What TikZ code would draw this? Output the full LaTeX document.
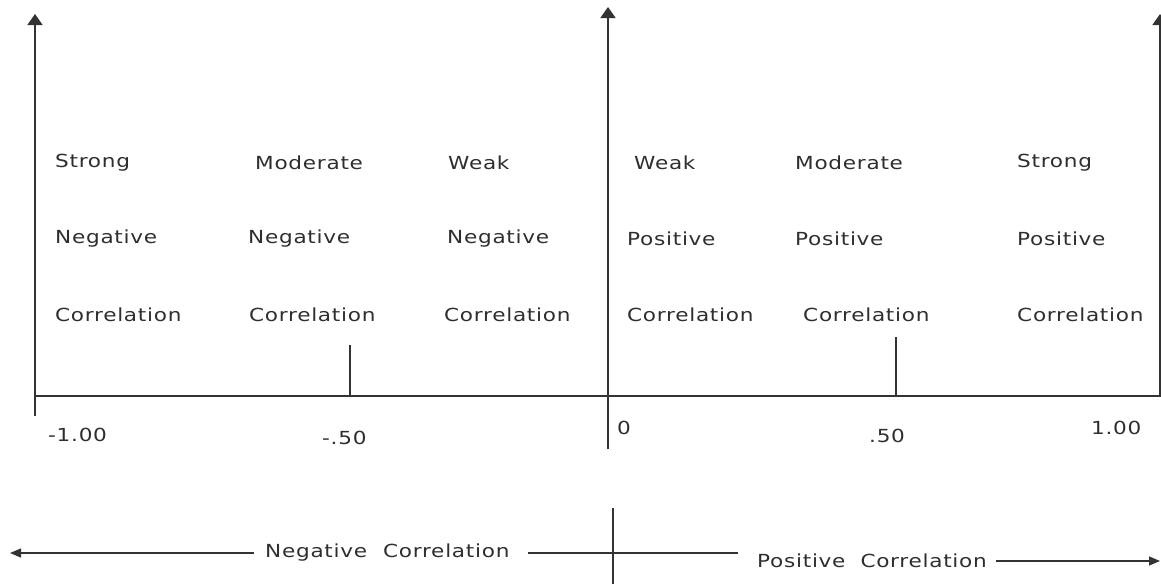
\documentclass[tikz,border=0pt]{standalone}
\usepackage{fontspec}
\usetikzlibrary{arrows.meta}
\newfontfamily\lblfont[FakeStretch=1.2,LetterSpace=4]{DejaVu Sans}
\definecolor{txt}{HTML}{2E2E2E}
\definecolor{ln}{HTML}{333333}
\begin{document}
\begin{tikzpicture}[x=1pt,y=-1pt,
  lbl/.style={inner sep=0pt,anchor=west,text=txt,font=\lblfont\fontsize{18}{20}\selectfont},
  axisline/.style={draw=ln,line width=1.8pt},
  thin/.style={draw=ln,line width=1.3pt},
  uptip/.style={-{Triangle[width=15pt,length=11pt]}},
  htip/.style={-{Triangle[width=9pt,length=11pt]}}]
\useasboundingbox (0,0) rectangle (1161,584);
% coordinates
\coordinate (lb) at (35,416);
\coordinate (lt) at (35,14);
\coordinate (mb) at (608,449);
\coordinate (mt) at (608,7);
\coordinate (rb) at (1160,396);
\coordinate (rt) at (1160,14);
\coordinate (al) at (35,396);
\coordinate (ar) at (1161,396);
\coordinate (t1b) at (350,396);
\coordinate (t1t) at (350,345);
\coordinate (t2b) at (896,396);
\coordinate (t2t) at (896,337);
% axes
\draw[axisline,uptip] (lb) -- (lt);
\draw[axisline,uptip] (mb) -- (mt);
\draw[axisline,uptip] (rb) -- (rt);
\draw[thin] (al) -- (ar);
\draw[thin] (t1b) -- (t1t);
\draw[thin] (t2b) -- (t2t);
% column labels
\node[lbl] (s1) at (55,163) {Strong};
\node[lbl] (s2) at (255,163) {Moderate};
\node[lbl] (s3) at (448,163) {Weak};
\node[lbl] (s4) at (634,163) {Weak};
\node[lbl] (s5) at (795,163) {Moderate};
\node[lbl] (s6) at (1017,163) {Strong};
\node[lbl] (n1) at (55,239) {Negative};
\node[lbl] (n2) at (248,239) {Negative};
\node[lbl] (n3) at (447,239) {Negative};
\node[lbl] (n4) at (627,239) {Positive};
\node[lbl] (n5) at (795,239) {Positive};
\node[lbl] (n6) at (1017,239) {Positive};
\node[lbl] (c1) at (55,315) {Correlation};
\node[lbl] (c2) at (249,315) {Correlation};
\node[lbl] (c3) at (444,315) {Correlation};
\node[lbl] (c4) at (627,315) {Correlation};
\node[lbl] (c5) at (803,315) {Correlation};
\node[lbl] (c6) at (1017,315) {Correlation};
% tick labels
\node[lbl] (v1) at (48,435) {-1.00};
\node[lbl] (v2) at (322,438) {-.50};
\node[lbl] (v3) at (617,428) {0};
\node[lbl] (v4) at (869,436) {.50};
\node[lbl] (v5) at (1091,428) {1.00};
% bottom
\coordinate (cb) at (613,584);
\coordinate (ct) at (613,508);
\draw[thin] (cb) -- (ct);
\node[lbl] (neg) at (265,553) {Negative\hspace{16pt}Correlation};
\node[lbl] (pos) at (757,561) {Positive\hspace{15pt}Correlation};
\coordinate (lend) at (10,553);
\coordinate (rend) at (1160,561);
\coordinate (mstart) at (528,553);
\coordinate (mend) at (738,553);
\draw[thin,htip] ([xshift=-11pt]neg.west) -- (lend);
\draw[thin] (mstart) -- (mend);
\draw[thin,htip] ([xshift=9pt]pos.east) -- (rend);
\end{tikzpicture}
\end{document}
